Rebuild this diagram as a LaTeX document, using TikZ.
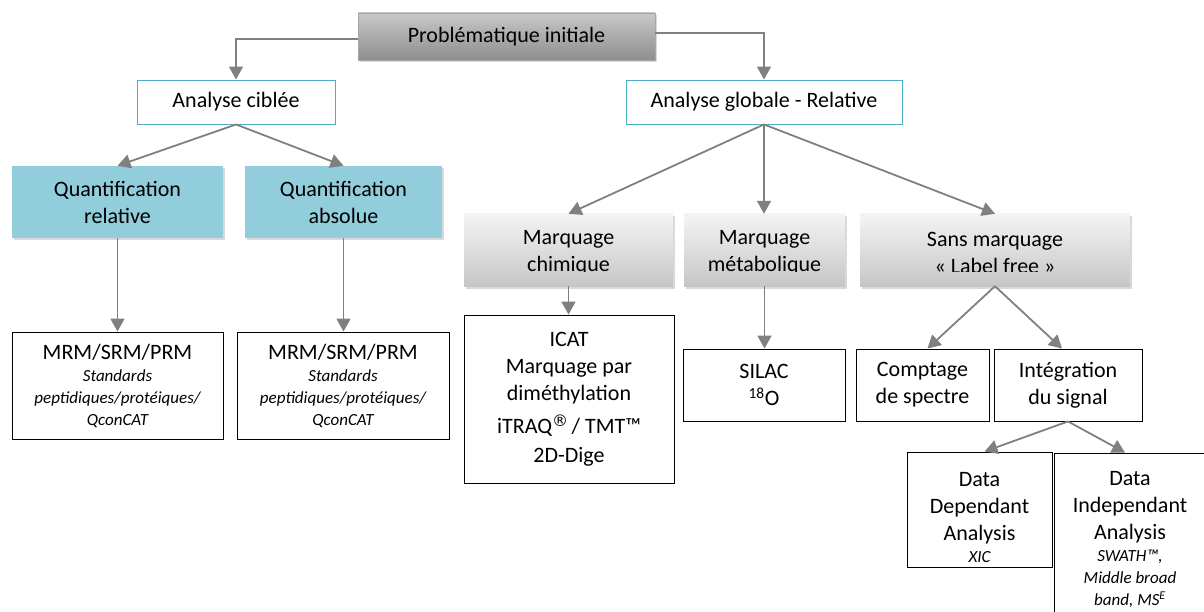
\documentclass[tikz,border=0pt]{standalone}
\usepackage{fontspec}
\setmainfont{Carlito}
\newfontfamily\symfont{DejaVu Sans}
\usetikzlibrary{arrows.meta,shadows}

\definecolor{linegray}{HTML}{808080}
\definecolor{quantblue}{HTML}{92CDDC}
\definecolor{frameblue}{HTML}{4BACC6}
\definecolor{gtop}{HTML}{F4F4F4}
\definecolor{gbot}{HTML}{C6C6C6}
\definecolor{htop}{HTML}{C8C8C8}
\definecolor{hbot}{HTML}{8E8E8E}

\newcommand\smallit[1]{{\fontsize{17}{21}\selectfont\itshape #1}}
\newcommand\regmark{\raisebox{7pt}{\symfont\fontsize{16}{16}\selectfont ®}}

\tikzset{
  box/.style={rectangle, inner sep=0pt, align=center,
    font=\fontsize{22}{27}\selectfont},
  plainbox/.style={box, draw=black, line width=0.9pt, fill=white},
  bluebox/.style={box, draw=frameblue, line width=0.9pt, fill=white},
  softshadow/.style={drop shadow={opacity=0.3, shadow xshift=1.5pt, shadow yshift=-2.5pt}},
  quantbox/.style={box, fill=quantblue, softshadow},
  greybox/.style={box, top color=gtop, bottom color=gbot, softshadow},
  headbox/.style={box, top color=htop, bottom color=hbot, draw=gray!70,
    line width=0.8pt, softshadow},
  link/.style={draw=linegray, line width=1.8pt,
    -{Triangle[width=14pt,length=13pt]}},
}

\begin{document}
\begin{tikzpicture}[x=1pt, y=-1pt]
\useasboundingbox (0,0) rectangle (1204,612);
\clip (0,0) rectangle (1204,612);

% top level
\node[headbox, minimum width=297, minimum height=47] (top) at (506.5,36.5) {Problématique initiale};
\node[bluebox, minimum width=198, minimum height=44] (ciblee) at (236,102) {Analyse ciblée};
\node[bluebox, minimum width=276, minimum height=44] (globale) at (764,102) {Analyse globale - Relative};

% targeted branch
\node[quantbox, minimum width=211, minimum height=72] (qrel) at (117.5,202) {Quantification\\relative};
\node[quantbox, minimum width=197, minimum height=72] (qabs) at (343.5,202) {Quantification\\absolue};
\node[plainbox, minimum width=211, minimum height=107] (mrm1) at (117.5,385.5)
  {MRM/SRM/PRM\\[-5pt]\smallit{Standards}\\[-5pt]\smallit{peptidiques/protéiques/}\\[-5pt]\smallit{QconCAT}};
\node[plainbox, minimum width=212, minimum height=107] (mrm2) at (343,385.5)
  {MRM/SRM/PRM\\[-5pt]\smallit{Standards}\\[-5pt]\smallit{peptidiques/protéiques/}\\[-5pt]\smallit{QconCAT}};

% global branch: labelling boxes (their text is cut off at the bottom)
\node[greybox, minimum width=209, minimum height=72] (chim) at (568.5,250) {};
\node[greybox, minimum width=161, minimum height=72] (meta) at (764.5,250) {};
\node[greybox, minimum width=270, minimum height=72] (sans) at (995,250) {};
\begin{scope}
  \clip (464,214) rectangle (1130,272);
  \node[box] (chim-t) at ([yshift=-3pt]chim.center) {Marquage\\chimique};
  \node[box] (meta-t) at ([yshift=-3pt]meta.center) {Marquage\\métabolique};
  \node[box] (sans-t) at ([yshift=-3pt]sans.center) {Sans marquage\\« Label free »};
\end{scope}

\node[plainbox, minimum width=210, minimum height=168] (icat) at (569,399)
  {ICAT\\Marquage par\\diméthylation\\[6pt]iTRAQ\regmark\,/ TMT™\\[2pt]2D-Dige};
\node[plainbox, minimum width=162, minimum height=72] (silac) at (764,385) {SILAC\\\textsuperscript{18}O};
\node[plainbox, minimum width=133, minimum height=72] (compt) at (922.5,385) {Comptage\\de spectre};
\node[plainbox, minimum width=148, minimum height=72] (integ) at (1068,385) {Intégration\\du signal};
\node[plainbox, minimum width=145, minimum height=115] (dda) at (979.5,509.5)
  {\rule{0pt}{30pt}Data\\Dependant\\Analysis\\[-5pt]\smallit{XIC}};
\node[plainbox, minimum width=152, minimum height=173] (dia) at (1130,539.5)
  {Data\\Independant\\Analysis\\[-5pt]\smallit{SWATH™,}\\[-5pt]\smallit{Middle broad}\\[-5pt]\smallit{band, MS\textsuperscript{E}}};

% connectors
\draw[link] ([yshift=-2.5pt]top.west) -| (ciblee.north);
\draw[link] ([yshift=3.5pt]top.east) -| (globale.north);
\draw[link] (ciblee.south) -- (qrel.north);
\draw[link] (ciblee.south) -- (qabs.north);
\draw[link] (qrel.south) -- (qrel.south |- mrm1.north);
\draw[link] (qabs.south) -- (qabs.south |- mrm2.north);
\draw[link] (globale.south) -- (chim.north);
\draw[link] (globale.south) -- (globale.south |- meta.north);
\draw[link] (globale.south) -- (sans.north);
\draw[link] (chim.south) -- (chim.south |- icat.north);
\draw[link] (meta.south) -- (meta.south |- silac.north);
\draw[link] (sans.south) -- ([xshift=5pt]compt.north);
\draw[link] (sans.south) -- ([xshift=-6pt]integ.north);
\draw[link] (integ.south) -- ([xshift=5pt]dda.north);
\draw[link] (integ.south) -- ([xshift=-5pt]dia.north);
\end{tikzpicture}
\end{document}
